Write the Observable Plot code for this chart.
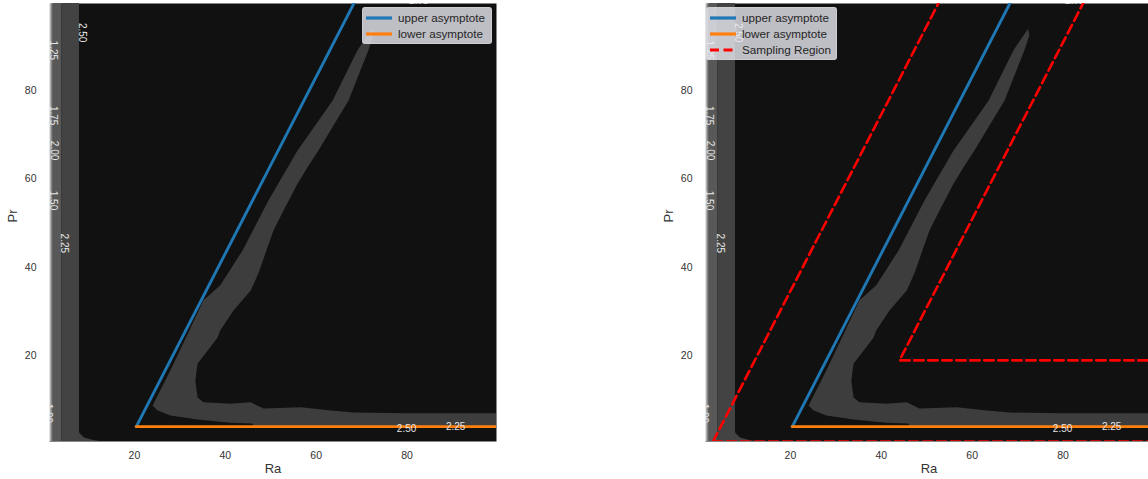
<!DOCTYPE html>
<html>
<head>
<meta charset="utf-8">
<script src="https://cdn.jsdelivr.net/npm/d3@7"></script>
<script src="https://cdn.jsdelivr.net/npm/@observablehq/plot@0.6"></script>
<style>
  body { margin: 0; background: #ffffff; font-family: "Liberation Sans", Arial, sans-serif; }
  #fig { position: relative; width: 1148px; height: 479px; overflow: hidden; background: #fff; }
  .panel { position: absolute; top: 0; }
  .legend { position: absolute; background: rgba(234,234,242,0.8); border: 1px solid rgba(210,210,214,0.8);
            border-radius: 3px; box-sizing: border-box; font-size: 11.7px; color: #262626; }
  .legend .row { position: absolute; left: 0; height: 16px; width: 100%; }
  .legend .row svg { position: absolute; left: 2px; top: 0; }
  .legend .row span { position: absolute; left: 35px; top: 0; line-height: 16px; white-space: nowrap; }
</style>
</head>
<body>
<div id="fig"></div>
<script>
// ---------------- data ----------------
const xTicks = [20, 40, 60, 80];
const yTicks = [20, 40, 60, 80];

// vertical contour lines near the left edge: level and the Ra where it sits
const contourLevels = [1.00, 1.25, 1.50, 1.75, 2.00, 2.25, 2.50];
const contourRa     = [1.2, 1.55, 1.8, 2.0, 2.15, 4.0, 7.9];

// rounded foot of the 2.25–2.50 band at the bottom
const footRa = [7.9, 8.1, 9.0, 10.8, 12.5];
const footPr = [2.6, 2.2, 1.3, 0.8, 0.5];

// grey (2.25–2.50) region: outer edge, bottom arm, inner edge back to the tip
const regionRa = [72.3, 69.1, 63.6, 55.9, 49.5, 43.8, 38.9, 35.2, 32.1, 27.9, 24.0, 25.1, 27.9, 33.9, 41.1, 46.0, 46.2, 101, 101,
                  90.3, 79.3, 68.2, 63.2, 56.6, 48.4, 45.6, 41.1, 35.2, 33.9, 33.4, 33.9, 36.1, 38.3, 38.9, 41.8, 45.6, 47.3, 49.3, 50.6, 52.8, 55.9, 58.1, 60.5, 67.1, 71.5, 72.6];
const regionPr = [94.0, 89.1, 77.7, 66.4, 55.1, 43.8, 35.9, 32.5, 25.7, 16.6, 8.7, 7.55, 6.4, 5.5, 4.8, 4.6, 3.7, 3.7, 6.9,
                  6.9, 6.9, 7.1, 7.55, 8.3, 8.0, 9.4, 9.1, 9.4, 10.5, 14.3, 18.2, 21.1, 24.1, 25.7, 30.2, 34.7, 38.6, 44.5, 48.3, 52.8, 58.9, 62.6, 66.4, 77.7, 89.1, 92.5];

// asymptotes
const upperRa = [20.4, 68.6];
const upperPr = [3.9, 100.3];
const lowerRa = [20.4, 101];
const lowerPr = [3.9, 3.9];

// sampling region (right panel)
const samplingRa = [2.95, 55.2, 87.05, 44.0, 105, 105, 2.95];
const samplingPr = [0.5, 105, 105, 18.9, 18.9, 0.5, 0.5];

// contour labels
const vLabelText = ["2.50", "1.25", "1.75", "2.00", "1.50", "2.25", "1.00"];
const vLabelRa   = [8.55, 2.16, 2.16, 2.38, 2.16, 4.6, 1.06];
const vLabelPr   = [93.1, 89.1, 74.3, 66.4, 55.1, 45.4, 6.9];
const hLabelText = ["2.75", "2.50", "2.25"];
const hLabelRa   = [82.6, 79.9, 90.7];
const hLabelPr   = [100.2, 3.5, 3.9];

const legendLabels = ["upper asymptote", "lower asymptote", "Sampling Region"];

// ---------------- styles ----------------
const xDomain = [1.3, 99.7];
const yDomain = [0.53, 99.7];
const bandGreys = ["#e4e4e4", "#c4c4c4", "#a2a2a2", "#808080", "#585858", "#434343"];
const regionGrey = "#3d3d3d";
const bgDark = "#111111";
const blue = "#1f77b4", orange = "#ff7f0e", red = "#ff0000";

// ---------------- derived tables ----------------
const intervalNames = contourLevels.slice(0, -1).map((l, i) => `${l.toFixed(2)}–${contourLevels[i + 1].toFixed(2)}`);
const bands = intervalNames.map((name, i) => ({interval: name, x1: contourRa[i], x2: contourRa[i + 1]}));
const foot = footRa.map((r, i) => ({Ra: r, Pr: footPr[i]}));
const region = regionRa.map((r, i) => ({Ra: r, Pr: regionPr[i]}));
const upper = upperRa.map((r, i) => ({Ra: r, Pr: upperPr[i]}));
const lower = lowerRa.map((r, i) => ({Ra: r, Pr: lowerPr[i]}));
const sampling = samplingRa.map((r, i) => ({Ra: r, Pr: samplingPr[i]}));
const vLabels = vLabelText.map((t, i) => ({t, Ra: vLabelRa[i], Pr: vLabelPr[i]}));
const hLabels = hLabelText.map((t, i) => ({t, Ra: hLabelRa[i], Pr: hLabelPr[i]}));

function panel(withSampling) {
  const marks = [
    Plot.frame({fill: bgDark}),
    Plot.rect(bands, {x1: "x1", x2: "x2", y1: yDomain[0], y2: yDomain[1], fill: "interval", clip: true}),
    Plot.areaY(foot, {x: "Ra", y1: 0, y2: "Pr", fill: bandGreys[5], clip: true}),
    Plot.line(region, {x: "Ra", y: "Pr", fill: regionGrey, stroke: "none", clip: true}),
    Plot.line(upper, {x: "Ra", y: "Pr", stroke: blue, strokeWidth: 2.9, clip: true}),
    Plot.line(lower, {x: "Ra", y: "Pr", stroke: orange, strokeWidth: 2.9, clip: true}),
    Plot.text(vLabels, {x: "Ra", y: "Pr", text: "t", rotate: 90, fill: "#e6e6e6", fontSize: 10, clip: true}),
    Plot.text(hLabels, {x: "Ra", y: "Pr", text: "t", fill: "#e6e6e6", fontSize: 10, clip: true}),
  ];
  if (withSampling) {
    marks.push(Plot.line(sampling, {x: "Ra", y: "Pr", stroke: red, strokeWidth: 2.6, strokeDasharray: "9.5,4.5", clip: true}));
  }
  marks.push(
    Plot.text(["Ra"], {frameAnchor: "bottom", dy: 31, text: d => d, fontSize: 13, fill: "#333"}),
    Plot.text(["Pr"], {frameAnchor: "left", dx: -37, rotate: -90, text: d => d, fontSize: 13, fill: "#333"})
  );
  return Plot.plot({
    width: 500, height: 479,
    marginLeft: 49, marginRight: 4, marginTop: 3, marginBottom: 38,
    x: {domain: xDomain, ticks: xTicks, tickSize: 0, tickPadding: 10, label: null},
    y: {domain: yDomain, ticks: yTicks, tickSize: 0, tickPadding: 13, label: null},
    color: {type: "ordinal", domain: intervalNames, range: bandGreys},
    style: {fontFamily: "'Liberation Sans', Arial, sans-serif", fontSize: "10.5px", color: "#333", background: "transparent", overflow: "visible"},
    marks
  });
}

function legend(entries, left, top, width) {
  const box = document.createElement("div");
  box.className = "legend";
  box.style.left = left + "px";
  box.style.top = top + "px";
  box.style.width = width + "px";
  box.style.height = (entries.length * 16.3 + 4) + "px";
  entries.forEach((e, i) => {
    const row = document.createElement("div");
    row.className = "row";
    row.style.top = (1.5 + i * 16.3) + "px";
    const dash = e.dash ? `stroke-dasharray="9,4.5"` : "";
    row.innerHTML = `<svg width="28" height="16"><line x1="1" x2="27" y1="8" y2="8" stroke="${e.color}" stroke-width="3.2" ${dash}/></svg><span>${e.label}</span>`;
    box.appendChild(row);
  });
  return box;
}

const fig = document.getElementById("fig");
const left = panel(false);
left.classList.add("panel");
left.style.left = "0px";
fig.appendChild(left);
const right = panel(true);
right.classList.add("panel");
right.style.left = "656px";
fig.appendChild(right);

fig.appendChild(legend([
  {label: legendLabels[0], color: blue},
  {label: legendLabels[1], color: orange}
], 362, 7, 130));
fig.appendChild(legend([
  {label: legendLabels[0], color: blue},
  {label: legendLabels[1], color: orange},
  {label: legendLabels[2], color: red, dash: true}
], 706, 7, 131));
</script>
</body>
</html>
